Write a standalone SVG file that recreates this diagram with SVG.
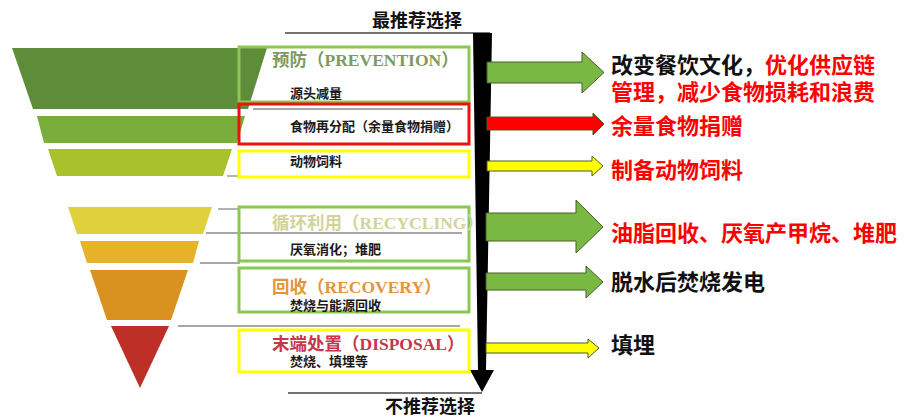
<svg xmlns="http://www.w3.org/2000/svg" width="904" height="419" viewBox="0 0 904 419">
<style>
.title{font-family:"Liberation Serif","Noto Sans CJK SC",serif;font-weight:bold;font-size:17.5px}
.sub{font-family:"Liberation Serif","Noto Sans CJK SC",serif;font-weight:bold;font-size:13px;fill:#1a1a1a}
.rt{font-family:"Liberation Sans","Noto Sans CJK SC",sans-serif;font-weight:bold;font-size:22px}
.hd{font-family:"Liberation Sans","Noto Sans CJK SC",sans-serif;font-weight:bold;font-size:18px;fill:#111}
.box{fill:none;stroke-width:3}
.lead{stroke:#8a8a8a;stroke-width:1.3;fill:none}
.arr{stroke:#4d5a2a;stroke-width:1}
</style>
<rect width="904" height="419" fill="#fff"/>

<!-- top/bottom labels and main bar -->
<g id="scale">
  <line x1="285" y1="33" x2="490" y2="33" stroke="#444" stroke-width="1.5"/>
  <text class="hd" x="417" y="27" text-anchor="middle">最推荐选择</text>
  <polygon points="473,33 492,33 486,370 494,370 482,392 470,370 478,370" fill="#000"/>
  <line x1="288" y1="393" x2="482" y2="393" stroke="#444" stroke-width="1.5"/>
  <text class="hd" x="430" y="413" text-anchor="middle">不推荐选择</text>
</g>

<!-- connectors: leader lines and block arrows -->
<g id="connectors">
  <line class="lead" x1="253" y1="109" x2="463" y2="109"/>
  <line class="lead" x1="227" y1="176" x2="240" y2="176"/>
  <line class="lead" x1="218" y1="209" x2="240" y2="209"/>
  <line class="lead" x1="206" y1="233" x2="462" y2="233"/>
  <line class="lead" x1="200" y1="263" x2="240" y2="263"/>
  <line class="lead" x1="178" y1="326" x2="460" y2="326"/>
  <path class="arr" d="M487,62 L582,62 L582,52 L604,72.5 L582,93 L582,83 L487,83 Z" fill="#7ab844"/>
  <path class="arr" d="M487,117 L593,117 L593,113 L604,124 L593,135 L593,130 L487,130 Z" fill="#ff0000"/>
  <path class="arr" d="M487,161 L592,161 L592,156 L603,166 L592,176 L592,171 L487,171 Z" fill="#ffff00" stroke="#8a8a40"/>
  <path class="arr" d="M486,213 L576,213 L576,200 L603,227 L576,253 L576,241 L486,241 Z" fill="#7ab844"/>
  <path class="arr" d="M486,273 L586,273 L586,266 L603,282 L586,298 L586,290 L486,290 Z" fill="#7ab844"/>
  <path class="arr" d="M486,343 L588,343 L588,339 L599,348 L588,358 L588,353 L486,353 Z" fill="#ffff00" stroke="#8a8a40"/>
</g>

<g id="prevention">
  <polygon points="12,48 267,48 248,109 33,109" fill="#5e8d39"/>
  <rect class="box" x="239" y="47" width="230" height="55" stroke="#8cc653"/>
  <text class="title" x="272" y="66" fill="#7c9b5c">预防（PREVENTION）</text>
  <text class="sub" x="290" y="98">源头减量</text>
  <text class="rt" x="611" y="73"><tspan fill="#111">改变餐饮文化，</tspan><tspan fill="#ff0000">优化供应链</tspan></text>
  <text class="rt" x="611" y="100" fill="#ff0000">管理，减少食物损耗和浪费</text>
</g>

<g id="redistribution">
  <polygon points="37,116 245,116 237,143 44,143" fill="#7aae3a"/>
  <rect class="box" x="239" y="104" width="230" height="40" stroke="#ee1111"/>
  <text class="sub" x="290" y="131">食物再分配（余量食物捐赠）</text>
  <text class="rt" x="611" y="134" fill="#ff0000">余量食物捐赠</text>
</g>

<g id="feed">
  <polygon points="48,149 232,149 223,176 57,176" fill="#a9c12a"/>
  <rect class="box" x="239" y="151" width="230" height="26" stroke="#ffff00"/>
  <text class="sub" x="290" y="166">动物饲料</text>
  <text class="rt" x="611" y="178" fill="#ff0000">制备动物饲料</text>
</g>

<g id="recycling">
  <polygon points="68,207 212,207 203,234 77,234" fill="#dfd13b"/>
  <polygon points="80,241 199,241 193,263 87,263" fill="#e5b228"/>
  <rect class="box" x="239" y="207" width="230" height="54" stroke="#8cc653"/>
  <text class="title" x="272" y="229" fill="#d3d39a">循环利用（RECYCLING）</text>
  <text class="sub" x="290" y="254">厌氧消化；堆肥</text>
  <text class="rt" x="611" y="241" fill="#ff0000">油脂回收、厌氧产甲烷、堆肥</text>
</g>

<g id="recovery">
  <polygon points="90,270 188,270 171,320 107,320" fill="#d9921f"/>
  <rect class="box" x="239" y="268" width="230" height="44" stroke="#8cc653"/>
  <text class="title" x="272" y="293" fill="#e3953a">回收（RECOVERY）</text>
  <text class="sub" x="290" y="310">焚烧与能源回收</text>
  <text class="rt" x="611" y="290" fill="#111">脱水后焚烧发电</text>
</g>

<g id="disposal">
  <polygon points="111,326 169,326 140,388" fill="#bd2f27"/>
  <rect class="box" x="239" y="330" width="230" height="42" stroke="#ffff00"/>
  <text class="title" x="272" y="350" fill="#c5364a">末端处置（DISPOSAL）</text>
  <text class="sub" x="290" y="366">焚烧、填埋等</text>
  <text class="rt" x="611" y="353" fill="#111">填埋</text>
</g>
</svg>
